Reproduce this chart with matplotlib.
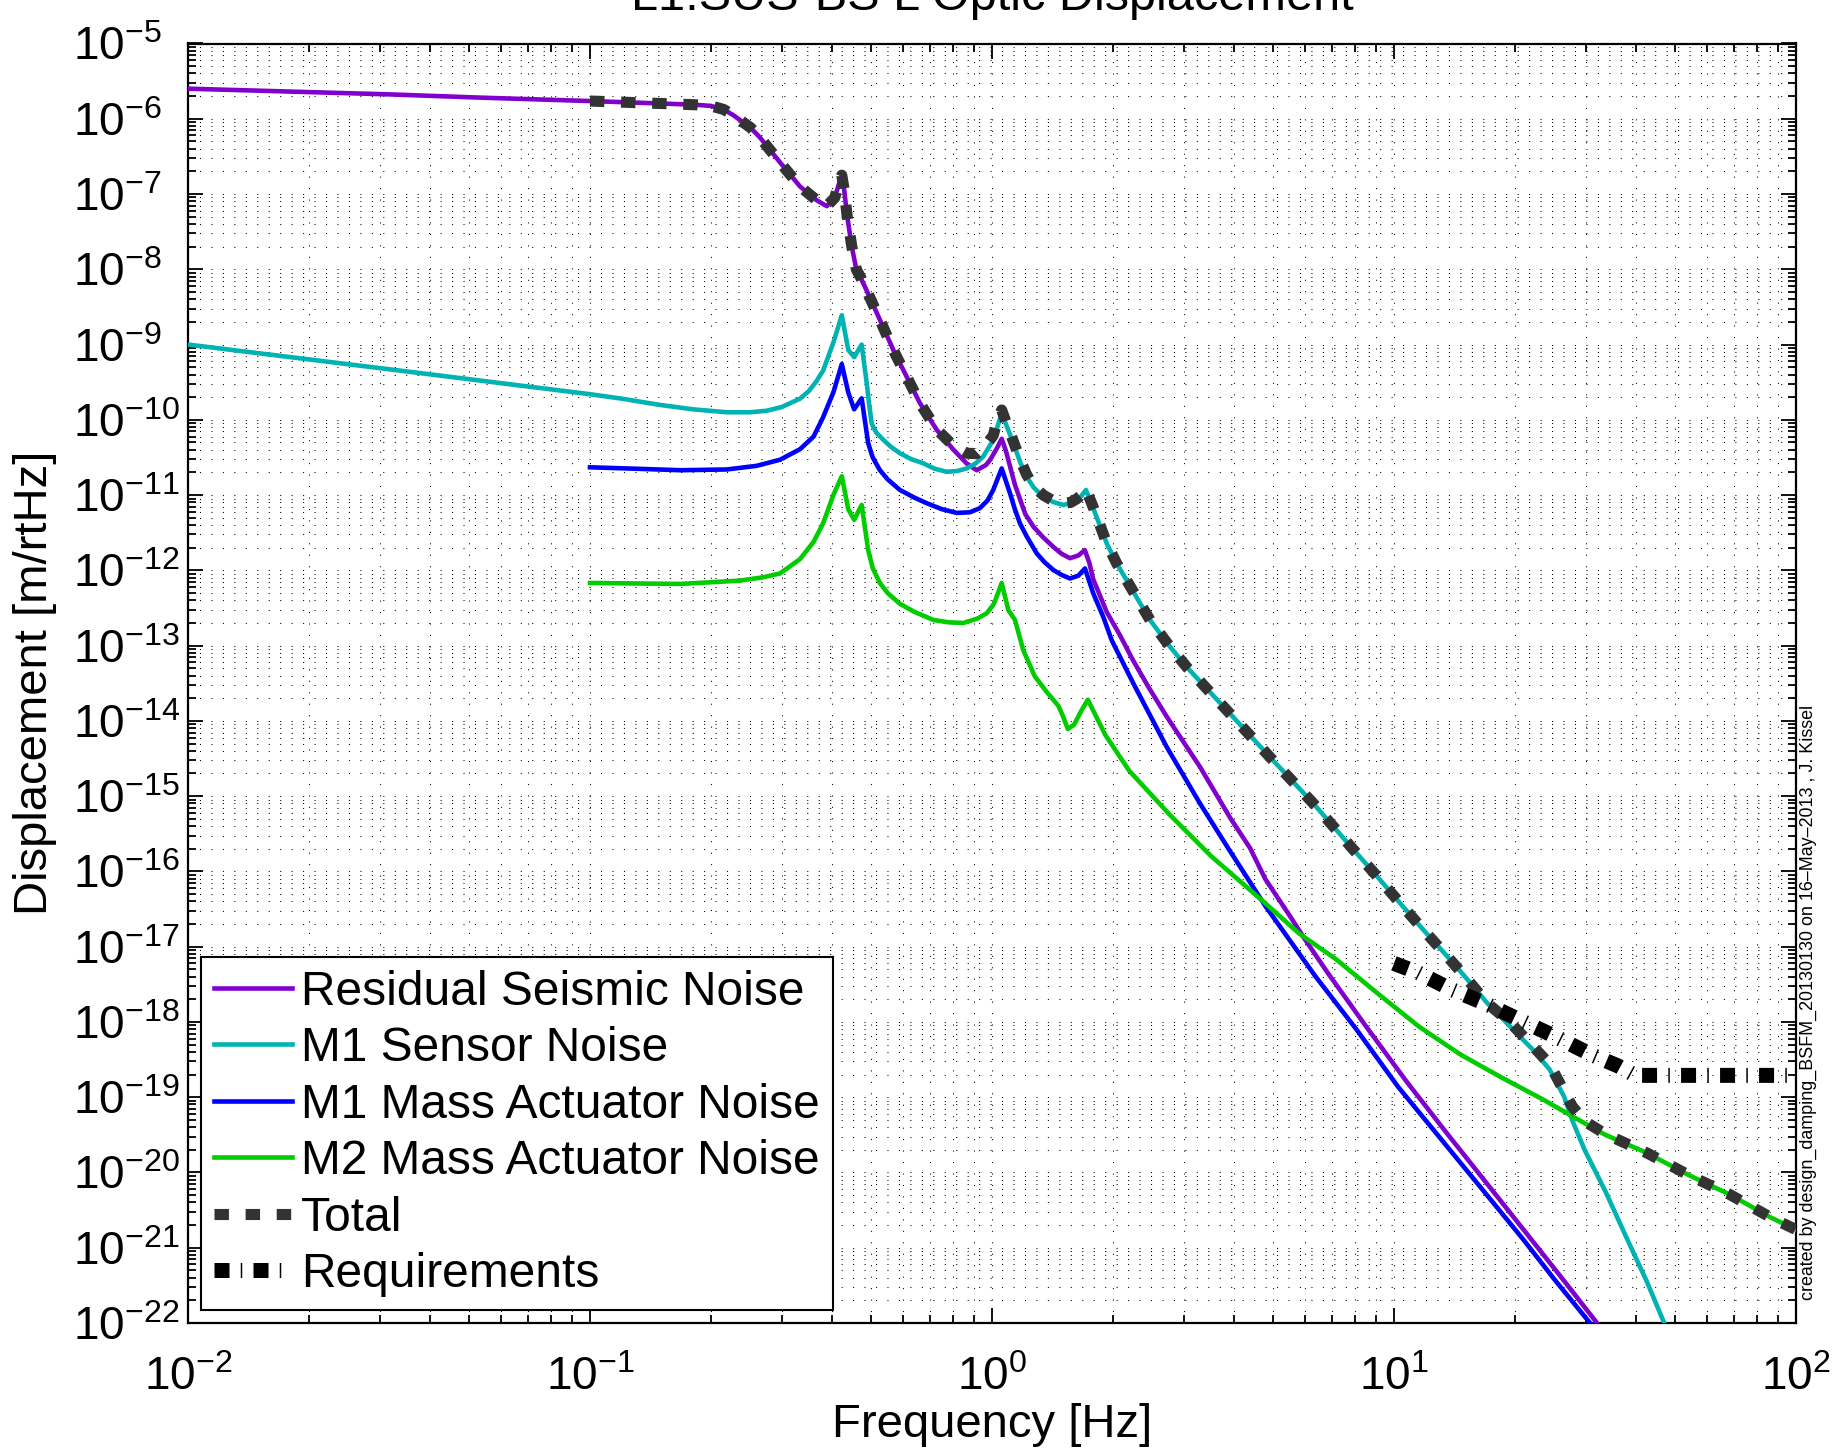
import numpy as np
import matplotlib
matplotlib.use("Agg")
import matplotlib.pyplot as plt
from matplotlib.ticker import LogLocator, NullFormatter, FuncFormatter

plt.rcParams['font.family'] = ['Liberation Sans', 'DejaVu Sans']
plt.rcParams['mathtext.fontset'] = 'custom'
plt.rcParams['mathtext.rm'] = 'Liberation Sans'
plt.rcParams['mathtext.it'] = 'Liberation Sans:italic'
plt.rcParams['mathtext.bf'] = 'Liberation Sans:bold'

# ---------------------------------------------------------------- data
seis_freq = [0.01, 0.0316, 0.0532, 0.1, 0.158, 0.185, 0.200, 0.215, 0.227,
             0.251, 0.265, 0.297, 0.333, 0.366, 0.388, 0.406, 0.417, 0.423,
             0.429, 0.436, 0.448, 0.460, 0.473, 0.488, 0.526, 0.568, 0.614,
             0.662, 0.728, 0.802, 0.865, 0.916, 0.966, 0.990, 1.028, 1.057,
             1.084, 1.109, 1.14, 1.175, 1.21, 1.268, 1.34, 1.422, 1.49, 1.563,
             1.641, 1.702, 1.746, 1.786, 1.929, 2.080, 2.246, 2.45, 2.720,
             3.291, 3.917, 4.385, 4.786, 5.521, 5.998, 6.839, 8.472, 10.74,
             13.61, 17.26, 21.88, 26.49, 31.99]
seis_asd = [2.51e-6, 2.11e-6, 1.91e-6, 1.72e-6, 1.58e-6, 1.53e-6, 1.48e-6,
            1.33e-6, 1.12e-6, 7.6e-7, 5.6e-7, 2.63e-7, 1.26e-7, 8.3e-8, 6.9e-8,
            8.9e-8, 1.41e-7, 1.78e-7, 1.12e-7, 5.2e-8, 2.0e-8, 9.8e-9, 7.4e-9,
            5.2e-9, 2.14e-9, 8.5e-10, 3.7e-10, 1.66e-10, 7.4e-11, 4.0e-11,
            2.63e-11, 2.14e-11, 2.51e-11, 2.95e-11, 4.17e-11, 5.6e-11, 3.8e-11,
            2.4e-11, 1.38e-11, 8.7e-12, 5.6e-12, 3.8e-12, 2.75e-12, 2.04e-12,
            1.66e-12, 1.45e-12, 1.58e-12, 1.86e-12, 1.26e-12, 7.6e-13, 2.8e-13,
            1.38e-13, 6.3e-14, 2.82e-14, 1.14e-14, 2.45e-15, 5.1e-16, 2.04e-16,
            7.9e-17, 2.51e-17, 1.26e-17, 4.5e-18, 9.1e-19, 1.62e-19, 3.2e-20,
            6.5e-21, 1.32e-21, 3.63e-22, 1.0e-22]

sensor_freq = [0.01, 0.0316, 0.1, 0.12, 0.149, 0.18, 0.219, 0.25, 0.275, 0.30,
               0.333, 0.35, 0.365, 0.380, 0.403, 0.423, 0.439, 0.454, 0.474,
               0.488, 0.495, 0.502, 0.515, 0.537, 0.56, 0.590, 0.63, 0.675,
               0.72, 0.771, 0.82, 0.865, 0.91, 0.951, 1.007, 1.057, 1.130,
               1.175, 1.220, 1.27, 1.341, 1.42, 1.504, 1.57, 1.624, 1.67, 1.713,
               1.804, 1.929, 2.042, 2.2, 2.472, 2.75, 3.050, 3.836, 4.915,
               6.300, 7.925, 8.995, 10.50, 11.80, 13.46, 15.14, 17.06, 19.45,
               22.13, 24.38, 26.49, 27.73, 29.79, 33.57, 37.76, 42.56, 47.0]
sensor_asd = [1.0e-9, 4.7e-10, 2.19e-10, 1.91e-10, 1.58e-10, 1.38e-10,
              1.26e-10, 1.26e-10, 1.32e-10, 1.48e-10, 1.91e-10, 2.4e-10,
              3.2e-10, 4.5e-10, 1.06e-9, 2.45e-9, 8.5e-10, 6.8e-10, 1.0e-9,
              3.05e-10, 1.58e-10, 8.9e-11, 6.8e-11, 5.4e-11, 4.4e-11, 3.6e-11,
              3.0e-11, 2.64e-11, 2.24e-11, 2.04e-11, 2.09e-11, 2.26e-11,
              2.63e-11, 3.24e-11, 5.4e-11, 1.22e-10, 4.9e-11, 2.75e-11, 1.75e-11,
              1.26e-11, 9.5e-12, 8.1e-12, 7.4e-12, 7.8e-12, 8.6e-12, 9.8e-12,
              1.17e-11, 5.8e-12, 2.29e-12, 1.24e-12, 6.3e-13, 2.19e-13, 1.02e-13,
              5.2e-14, 1.39e-14, 3.3e-15, 8.0e-16, 1.95e-16, 9.1e-17, 3.47e-17,
              1.70e-17, 7.8e-18, 3.8e-18, 1.78e-18, 8.7e-19, 4.3e-19, 2.34e-19,
              1.02e-19, 5.0e-20, 2.0e-20, 5.6e-21, 1.41e-21, 3.55e-22, 1.0e-22]

m1act_freq = [0.1, 0.13, 0.168, 0.219, 0.26, 0.297, 0.333, 0.36, 0.380, 0.403,
              0.423, 0.439, 0.454, 0.474, 0.492, 0.505, 0.526, 0.55, 0.590,
              0.64, 0.688, 0.75, 0.817, 0.88, 0.933, 0.975, 1.007, 1.057, 1.109,
              1.14, 1.174, 1.22, 1.292, 1.35, 1.421, 1.49, 1.563, 1.64, 1.703,
              1.786, 1.892, 1.986, 2.246, 2.720, 3.291, 3.871, 4.786, 6.368,
              8.072, 10.23, 12.97, 16.44, 20.89, 25.23, 30.73]
m1act_asd = [2.34e-11, 2.24e-11, 2.14e-11, 2.19e-11, 2.45e-11, 2.95e-11,
             4.07e-11, 6.0e-11, 1.08e-10, 2.31e-10, 5.5e-10, 2.31e-10, 1.38e-10,
             1.93e-10, 4.9e-11, 3.16e-11, 2.15e-11, 1.62e-11, 1.17e-11, 9.3e-12,
             7.8e-12, 6.5e-12, 5.8e-12, 5.9e-12, 6.7e-12, 8.5e-12, 1.17e-11,
             2.26e-11, 1.05e-11, 6.5e-12, 4.2e-12, 2.82e-12, 1.68e-12, 1.29e-12,
             1.01e-12, 8.7e-13, 7.8e-13, 8.5e-13, 1.06e-12, 4.95e-13, 2.4e-13,
             1.17e-13, 3.16e-14, 4.5e-15, 8.0e-16, 2.02e-16, 3.47e-17, 4.07e-18,
             7.9e-19, 1.38e-19, 2.95e-20, 6.3e-21, 1.32e-21, 3.63e-22, 1.0e-22]

m2act_freq = [0.1, 0.168, 0.236, 0.27, 0.297, 0.333, 0.36, 0.380, 0.403, 0.423,
              0.439, 0.454, 0.474, 0.492, 0.505, 0.526, 0.55, 0.590, 0.64,
              0.715, 0.78, 0.849, 0.92, 0.970, 1.01, 1.035, 1.057, 1.098, 1.141,
              1.196, 1.278, 1.37, 1.463, 1.50, 1.544, 1.60, 1.67, 1.731, 1.914,
              2.192, 2.773, 3.516, 4.677, 5.794, 7.178, 9.099, 11.53, 14.62,
              18.54, 23.50, 27.73, 33.57, 42.56, 53.95, 68.39, 86.70, 100.0]
m2act_asd = [6.8e-13, 6.6e-13, 7.3e-13, 8.1e-13, 9.1e-13, 1.41e-12, 2.4e-12,
             4.2e-12, 1.0e-11, 1.78e-11, 6.5e-12, 4.7e-12, 7.4e-12, 1.86e-12,
             1.07e-12, 6.8e-13, 5.0e-13, 3.6e-13, 2.82e-13, 2.19e-13, 2.04e-13,
             2.0e-13, 2.29e-13, 2.69e-13, 3.55e-13, 5.0e-13, 6.8e-13, 2.97e-13,
             2.19e-13, 8.7e-14, 3.9e-14, 2.4e-14, 1.58e-14, 1.17e-14, 7.8e-15,
             8.9e-15, 1.38e-14, 1.91e-14, 6.5e-15, 2.19e-15, 5.6e-16, 1.58e-16,
             4.2e-17, 1.51e-17, 6.8e-18, 2.4e-18, 8.7e-19, 3.7e-19, 1.82e-19,
             9.3e-20, 5.6e-20, 3.16e-20, 1.82e-20, 9.3e-21, 5.1e-21, 2.51e-21,
             1.74e-21]

total_freq = [0.1, 0.158, 0.185, 0.200, 0.215, 0.227, 0.251, 0.265, 0.297,
              0.333, 0.366, 0.388, 0.406, 0.417, 0.423, 0.429, 0.436, 0.448,
              0.460, 0.473, 0.488, 0.526, 0.568, 0.614, 0.662, 0.728, 0.802,
              0.865, 0.916, 0.966, 1.007, 1.028, 1.057, 1.084, 1.109, 1.175,
              1.220, 1.27, 1.341, 1.42, 1.504, 1.57, 1.624, 1.67, 1.713, 1.804,
              1.929, 2.042, 2.2, 2.472, 2.75, 3.050, 3.836, 4.915, 6.300, 7.925,
              8.995, 10.50, 11.80, 13.46, 15.14, 17.06, 19.45, 22.13, 24.38,
              26.49, 27.73, 29.79, 33.57, 42.56, 53.95, 68.39, 86.70, 100.0]
total_asd = [1.72e-6, 1.58e-6, 1.53e-6, 1.48e-6, 1.33e-6, 1.12e-6, 7.6e-7,
             5.6e-7, 2.63e-7, 1.26e-7, 8.3e-8, 6.9e-8, 8.9e-8, 1.41e-7, 1.78e-7,
             1.12e-7, 5.2e-8, 2.0e-8, 9.9e-9, 7.5e-9, 5.2e-9, 2.14e-9, 8.5e-10,
             3.7e-10, 1.66e-10, 7.5e-11, 4.5e-11, 3.6e-11, 3.55e-11, 4.6e-11,
             6.2e-11, 9.3e-11, 1.35e-10, 9.3e-11, 6.8e-11, 2.95e-11, 1.86e-11,
             1.3e-11, 1.0e-11, 8.4e-12, 7.8e-12, 8.0e-12, 8.9e-12, 1.0e-11,
             1.2e-11, 6.0e-12, 2.29e-12, 1.24e-12, 6.3e-13, 2.19e-13, 1.02e-13,
             5.2e-14, 1.39e-14, 3.3e-15, 8.0e-16, 1.95e-16, 9.1e-17, 3.47e-17,
             1.70e-17, 7.8e-18, 3.8e-18, 1.78e-18, 9.8e-19, 4.8e-19, 2.75e-19,
             1.2e-19, 7.6e-20, 4.8e-20, 3.24e-20, 1.82e-20, 9.3e-21, 5.1e-21,
             2.51e-21, 1.74e-21]

req_freq = [10.0, 11.5, 13.9, 17.1, 20.9, 25.5, 30.9, 36.1, 39.8, 100.0]
req_asd = [6.0e-18, 4.5e-18, 2.7e-18, 1.7e-18, 1.02e-18, 6.2e-19, 3.7e-19,
           2.6e-19, 1.95e-19, 1.95e-19]

labels = ['Residual Seismic Noise', 'M1 Sensor Noise', 'M1 Mass Actuator Noise',
          'M2 Mass Actuator Noise', 'Total', 'Requirements']
colors = ['#8000CC', '#00B3B3', '#0000FF', '#00CC00', '#333333', '#000000']

title = 'L1:SUS-BS L Optic Displacement'
xlabel = 'Frequency [Hz]'
ylabel = 'Displacement [m/rtHz]'
stamp = 'created by design_damping_BSFM_20130130 on 16\u2013May\u20132013 , J. Kissel'

# ---------------------------------------------------------------- figure
W, H = 1844, 1454
fig = plt.figure(figsize=(W / 100, H / 100), dpi=100)
ax = fig.add_axes([188 / W, 1 - 1323 / H, 1608 / W, 1279.5 / H])
ax.set_xscale('log')
ax.set_yscale('log')
ax.set_xlim(1e-2, 1e2)
ax.set_ylim(1e-22, 1e-5)

lw = 3.3
series = [(seis_freq, seis_asd), (sensor_freq, sensor_asd),
          (m1act_freq, m1act_asd), (m2act_freq, m2act_asd)]
handles = []
for (f, a), lab, col in zip(series, labels[:4], colors[:4]):
    h, = ax.plot(f, a, color=col, lw=lw, label=lab, zorder=3,
                 solid_joinstyle='round')
    handles.append(h)

h_tot, = ax.plot(total_freq, total_asd, color=colors[4], lw=8.0,
                 linestyle=(0, (1.3, 1.5)), dash_capstyle='butt',
                 dash_joinstyle='round', label=labels[4], zorder=4)
handles.append(h_tot)
h_req, = ax.plot(req_freq, req_asd, color=colors[5], lw=10.8,
                 linestyle=(0, (1.0, 0.75, 0.1, 0.75)), dash_capstyle='butt',
                 label=labels[5], zorder=5)
handles.append(h_req)

# axes decoration in the usual MATLAB look
ax.xaxis.set_major_locator(LogLocator(base=10, numticks=20))
ax.xaxis.set_minor_locator(LogLocator(base=10, subs=np.arange(2, 10), numticks=20))
ax.yaxis.set_major_locator(LogLocator(base=10, numticks=40))
ax.yaxis.set_minor_locator(LogLocator(base=10, subs=np.arange(2, 10), numticks=40))
fmt = FuncFormatter(lambda v, p: r'$\mathregular{10^{%d}}$' % int(round(np.log10(v))))
ax.xaxis.set_major_formatter(fmt)
ax.yaxis.set_major_formatter(fmt)
ax.xaxis.set_minor_formatter(NullFormatter())
ax.yaxis.set_minor_formatter(NullFormatter())

ax.tick_params(which='both', direction='in', top=True, right=True, width=1.3,
               color='k')
ax.tick_params(which='major', length=10.5, labelsize=33)
ax.tick_params(axis='y', which='major', pad=83)
ax.tick_params(axis='x', which='major', pad=24)
ax.tick_params(which='minor', length=5.5)
for s in ax.spines.values():
    s.set_linewidth(1.6)

ax.grid(True, which='both', color='k', linestyle=(0, (1, 10)), linewidth=0.75)
ax.set_axisbelow(True)

ax.set_xlabel(xlabel, fontsize=34)
ax.xaxis.set_label_coords(0.5, (1323 - 1437) / 1279.5)
ax.xaxis.label.set_va('baseline')
ax.set_ylabel(ylabel, fontsize=34, va='center')
ax.yaxis.set_label_coords((35 - 188) / 1608, 0.5)

fig.text(992 / W, 1 - 10 / H, title, ha='center', va='baseline', fontsize=35)

leg = ax.legend(handles, labels, loc='lower left',
                bbox_to_anchor=(201 / W, 1 - 1310 / H),
                bbox_transform=fig.transFigure, borderaxespad=0,
                fontsize=34.5, handlelength=1.62, handletextpad=0.2,
                borderpad=0.27, labelspacing=0.24, fancybox=False,
                framealpha=1, edgecolor='k')
leg.get_frame().set_linewidth(1.5)
leg.set_zorder(10)

fig.text(1808 / W, 1 - 1300 / H, stamp, rotation=90, ha='center', va='bottom',
         fontsize=12.9)

# y tick labels share a common left edge, as in the original exports
fig.canvas.draw()
for lab in ax.get_yticklabels():
    lab.set_horizontalalignment('left')

fig.savefig('out.png', dpi=100)
